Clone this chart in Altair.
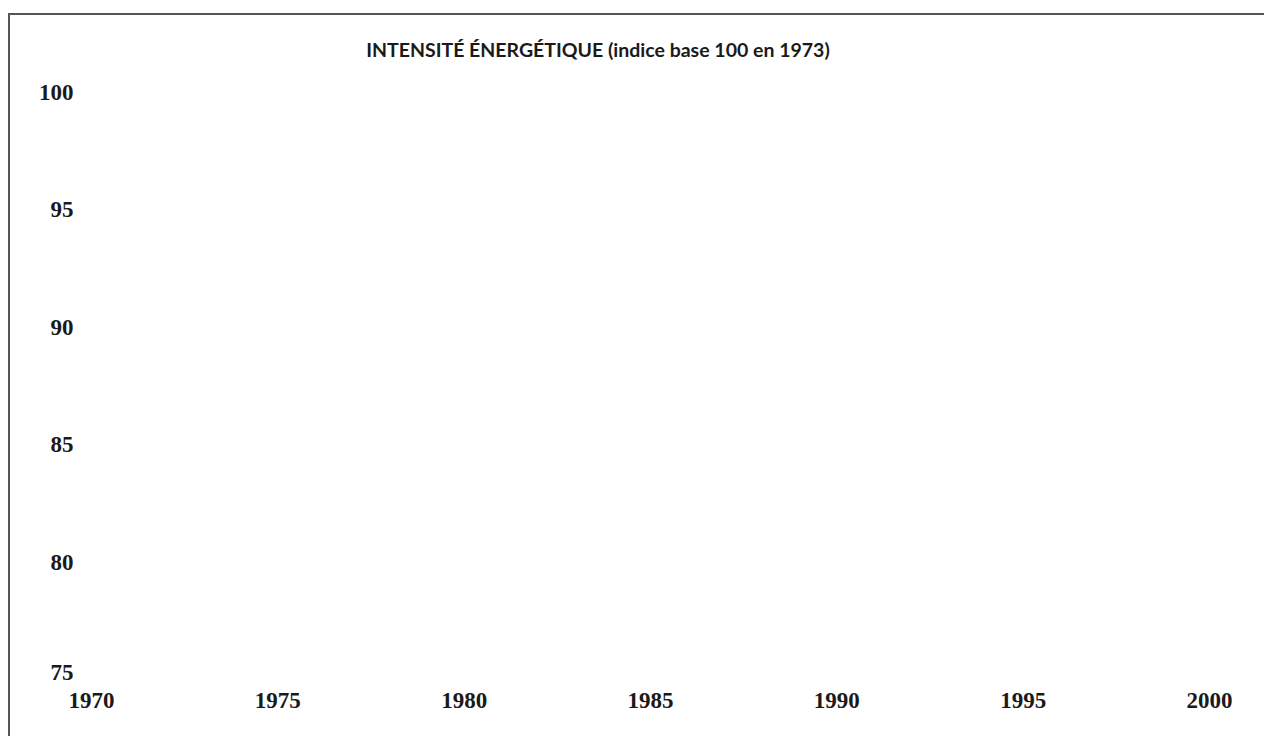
import altair as alt
import pandas as pd

# Axis tick values (the reference chart shows an empty frame with axes only)
years = [1970, 1975, 1980, 1985, 1990, 1995, 2000]
index_ticks = [75, 80, 85, 90, 95, 100]
title_text = "INTENSITÉ ÉNERGÉTIQUE (indice base 100 en 1973)"

# Domain anchors only (no data series is drawn in the reference)
anchors = pd.DataFrame({"annee": [years[0], years[-1]], "indice": [index_ticks[0], index_ticks[-1]]})
title_df = pd.DataFrame({"titre": [title_text]})

W, H = 1118, 588
PAD_L, PAD_T = 83, 84
TOTAL_W, TOTAL_H = 1256, 728

label_font = "Liberation Serif"

base = alt.Chart(anchors).mark_point(opacity=0).encode(
    x=alt.X("annee:Q", scale=alt.Scale(domain=[years[0], years[-1]], nice=False, zero=False),
            axis=alt.Axis(values=years, title=None, domain=False, ticks=False, grid=False,
                          labelFont=label_font, labelFontSize=23, labelFontWeight="bold",
                          labelColor="#1a1a1a", labelPadding=9, labelFlush=False,
                          labelOverlap=False, format="d")),
    y=alt.Y("indice:Q", scale=alt.Scale(domain=[index_ticks[0], index_ticks[-1]], nice=False, zero=False),
            axis=alt.Axis(values=index_ticks, title=None, domain=False, ticks=False, grid=False,
                          labelFont=label_font, labelFontSize=23, labelFontWeight="bold",
                          labelColor="#1a1a1a", labelPadding=18, labelFlush=False,
                          labelOverlap=False, format="d",
                          labelOffset={"condition": {"test": "datum.value == 75", "value": -8}, "value": 0})),
)

frame_top = alt.Chart(anchors).mark_rule(color="#555555", strokeWidth=2).encode(
    x=alt.value(-PAD_L), x2=alt.value(TOTAL_W), y=alt.value(-(PAD_T - 6))
)
frame_left = alt.Chart(anchors).mark_rule(color="#555555", strokeWidth=2).encode(
    x=alt.value(-PAD_L + 1), y=alt.value(-(PAD_T - 6)), y2=alt.value(TOTAL_H)
)

title_mark = alt.Chart(title_df).mark_text(
    font="Lato", fontSize=19.5, fontWeight="bold", color="#1a1a1a", align="center", baseline="middle"
).encode(text="titre:N", x=alt.value(507), y=alt.value(-41))

chart = alt.layer(frame_top, frame_left, base, title_mark).properties(
    width=W,
    height=H,
    background="white",
    autosize=alt.AutoSizeParams(type="none"),
    padding={"left": PAD_L, "top": PAD_T, "right": TOTAL_W - PAD_L - W, "bottom": TOTAL_H - PAD_T - H},
).configure_view(strokeWidth=0, stroke="transparent")

chart.save("out.html", embed_options={"renderer": "svg", "actions": False})
